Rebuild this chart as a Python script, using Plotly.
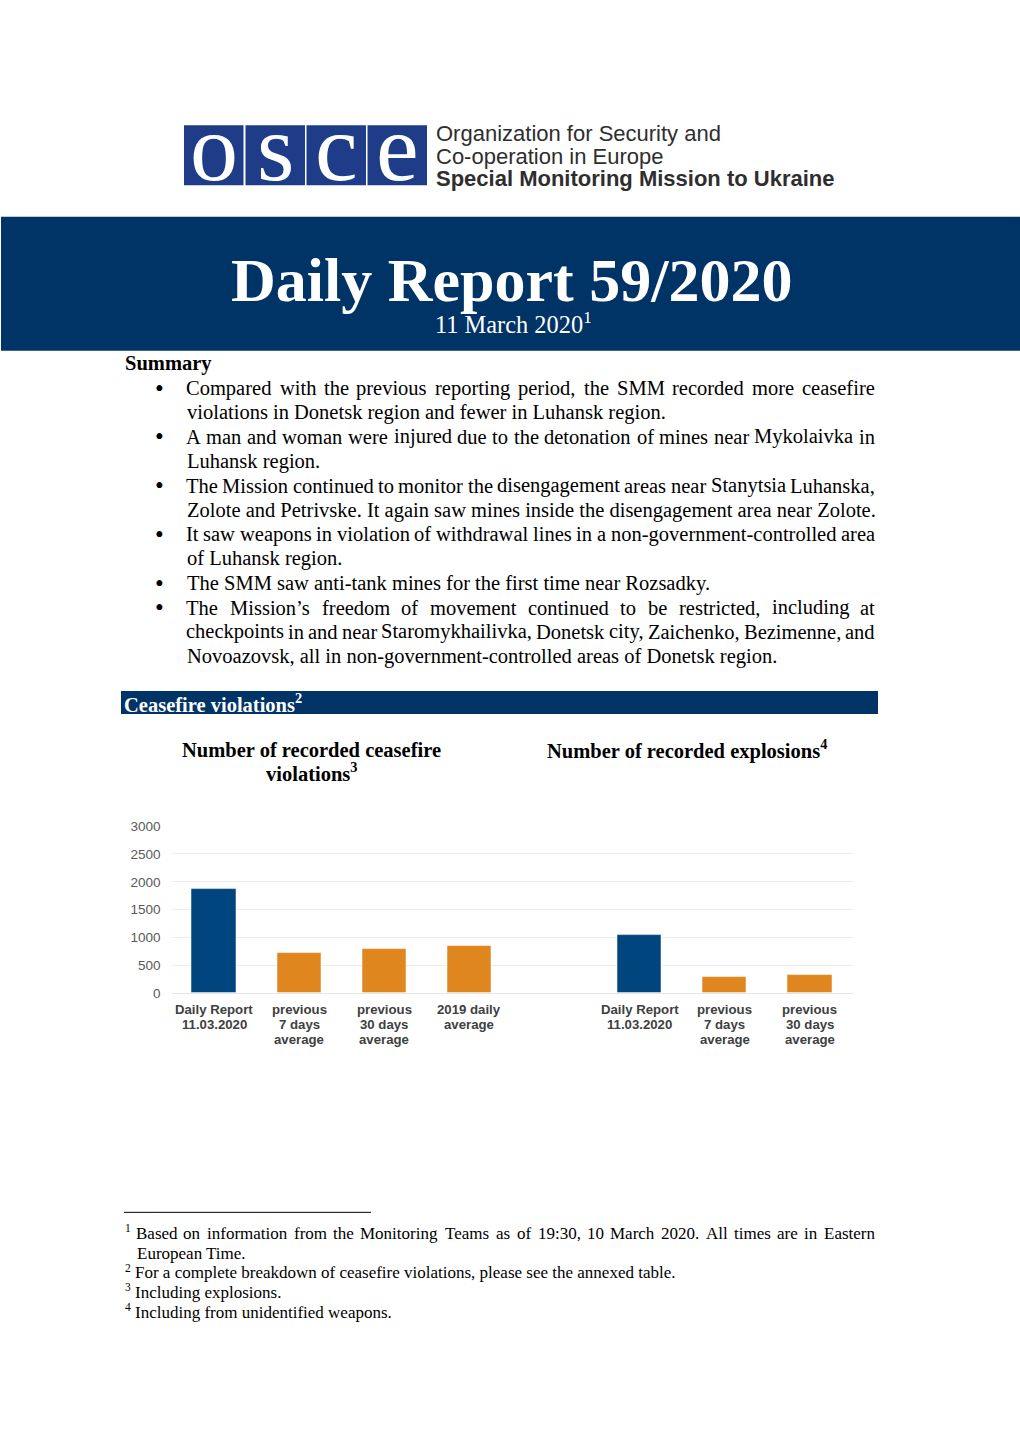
import plotly.graph_objects as go

# ---------------- data ----------------
cf_categories = ["Daily Report<br>11.03.2020", "previous<br>7 days<br>average",
                 "previous<br>30 days<br>average", "2019 daily<br>average"]
cf_values = [1871, 720, 792, 840]

ex_categories = ["Daily Report<br>11.03.2020", "previous<br>7 days<br>average",
                 "previous<br>30 days<br>average"]
ex_values = [1038, 288, 318]

y_ticks = [0, 500, 1000, 1500, 2000, 2500, 3000]

# (bullet, text, justified)
summary_lines = [
    (True, "Compared with the previous reporting period, the SMM recorded more ceasefire", True),
    (False, "violations in Donetsk region and fewer in Luhansk region.", False),
    (True, "A man and woman were injured due to the detonation of mines near Mykolaivka in", True),
    (False, "Luhansk region.", False),
    (True, "The Mission continued to monitor the disengagement areas near Stanytsia Luhanska,", True),
    (False, "Zolote and Petrivske. It again saw mines inside the disengagement area near Zolote.", False),
    (True, "It saw weapons in violation of withdrawal lines in a non-government-controlled area", True),
    (False, "of Luhansk region.", False),
    (True, "The SMM saw anti-tank mines for the first time near Rozsadky.", False),
    (True, "The Mission’s freedom of movement continued to be restricted, including at", True),
    (False, "checkpoints in and near Staromykhailivka, Donetsk city, Zaichenko, Bezimenne, and", True),
    (False, "Novoazovsk, all in non-government-controlled areas of Donetsk region.", False),
]

footnotes = [
    ("1", "Based on information from the Monitoring Teams as of 19:30, 10 March 2020. All times are in Eastern", True),
    ("", "European Time.", False),
    ("2", "For a complete breakdown of ceasefire violations, please see the annexed table.", False),
    ("3", "Including explosions.", False),
    ("4", "Including from unidentified weapons.", False),
]

# ---------------- styling ----------------
W, H = 1020, 1442
NAVY = "#003366"
LOGO_BLUE = "#1f3c88"
BAR_BLUE = "#00457e"
BAR_ORANGE = "#e0861f"
SERIF = "Liberation Serif, Times New Roman, serif"
SANS = "Liberation Sans, Arial, sans-serif"
BODY = 20.5
FOOT = 17.0

# Times-compatible advance widths (per 1000 em) for text justification
_TW = {' ': 250, ',': 250, '.': 250, '-': 333, ':': 278, ';': 278, '/': 278, '’': 333, "'": 180,
       '(': 333, ')': 333}
for _c in "0123456789":
    _TW[_c] = 500
_TW.update(dict(zip("ABCDEFGHIJKLMNOPQRSTUVWXYZ",
                    [722, 667, 667, 722, 611, 556, 722, 722, 333, 389, 722, 611, 889,
                     722, 722, 556, 722, 667, 556, 611, 722, 722, 944, 722, 722, 611])))
_TW.update(dict(zip("abcdefghijklmnopqrstuvwxyz",
                    [444, 500, 444, 500, 444, 333, 500, 500, 278, 278, 500, 278, 778,
                     500, 500, 500, 500, 333, 389, 278, 500, 500, 722, 500, 500, 444])))


def text_width(s, size):
    return sum(_TW.get(c, 500) for c in s) * size / 1000.0


def px(x):
    return x / W


def py(y):
    # compensate for the vertical fit of the page photograph
    return 1 - ((y - 7.4) / 0.989) / H


cf_x = list(range(len(cf_values)))
ex_x = [len(cf_values) + 1 + i for i in range(len(ex_values))]

fig = go.Figure()
fig.add_trace(go.Bar(
    x=cf_x, y=cf_values, width=0.52,
    marker=dict(color=[BAR_BLUE] + [BAR_ORANGE] * (len(cf_values) - 1),
                line=dict(color="rgba(255,255,255,0.5)", width=1)),
    hoverinfo="skip",
))
fig.add_trace(go.Bar(
    x=ex_x, y=ex_values, width=0.52,
    marker=dict(color=[BAR_BLUE] + [BAR_ORANGE] * (len(ex_values) - 1),
                line=dict(color="rgba(255,255,255,0.5)", width=1)),
    hoverinfo="skip",
))

shapes = []
annotations = []


def add_text(x, y, text, size, color="black", family=SERIF, weight="normal", xanchor="left"):
    annotations.append(dict(xref="paper", yref="paper", x=px(x), y=py(y), text=text,
                            showarrow=False, xanchor=xanchor, yanchor="middle",
                            font=dict(family=family, size=size, color=color, weight=weight)))


def add_justified(x0, x1, y, text, size):
    words = text.split(" ")
    widths = [text_width(w, size) for w in words]
    gap = (x1 - x0 - sum(widths)) / (len(words) - 1)
    cur = x0
    for w, wd in zip(words, widths):
        add_text(cur + wd / 2, y, w, size, xanchor="center")
        cur += wd + gap


# category labels under the bars (tight line spacing, as in the reference)
for xv, label in zip(cf_x + ex_x, cf_categories + ex_categories):
    for k, part in enumerate(label.split("<br>")):
        annotations.append(dict(xref="x", yref="paper", x=xv, y=py(1009 + 15 * k), text=part,
                                showarrow=False, xanchor="center", yanchor="middle",
                                font=dict(family=SANS, size=13.2, color="#404040", weight="bold")))

# logo boxes
logo_letters = ["o", "s", "c", "e"]
box_x = [184, 245.5, 306.5, 367.5]
for lx, letter in zip(box_x, logo_letters):
    shapes.append(dict(type="rect", xref="paper", yref="paper",
                       x0=px(lx), x1=px(lx + 59.5), y0=py(185.5), y1=py(125.5),
                       fillcolor=LOGO_BLUE, line=dict(width=0), layer="below"))
    add_text(lx + 30, 148, letter, 96, color="white", xanchor="center")

logo_texts = [("Organization for Security and", 134, "normal"),
              ("Co-operation in Europe", 157, "normal"),
              ("Special Monitoring Mission to Ukraine", 179, "bold")]
for t, yy, wgt in logo_texts:
    add_text(434, yy, t, 22, color="#2e2e2e", family=SANS, weight=wgt)

# banner
shapes.append(dict(type="rect", xref="paper", yref="paper",
                   x0=px(1), x1=px(1020), y0=py(351), y1=py(217),
                   fillcolor=NAVY, line=dict(width=0), layer="below"))
add_text(511, 280, "Daily Report 59/2020", 62, color="white", weight="bold", xanchor="center")
add_text(433, 323, "11 March 2020<sup>1</sup>", 24.4, color="white")

# summary
add_text(123, 364, "Summary", BODY, weight="bold")
for i, (bullet, line, just) in enumerate(summary_lines):
    yy = 388.3 + i * 24.36
    if bullet:
        add_text(159, yy, "•", 25, xanchor="center")
    if just:
        add_justified(186, 875, yy, line, BODY)
    else:
        add_text(185, yy, line, BODY)

# section bar
shapes.append(dict(type="rect", xref="paper", yref="paper",
                   x0=px(121), x1=px(878), y0=py(714), y1=py(691),
                   fillcolor=NAVY, line=dict(width=0), layer="below"))
add_text(122, 703, "Ceasefire violations<sup>2</sup>", BODY, color="white", weight="bold")

# chart titles
add_text(311, 750, "Number of recorded ceasefire", BODY, weight="bold", xanchor="center")
add_text(311, 772, "violations<sup>3</sup>", BODY, weight="bold", xanchor="center")
add_text(687, 749, "Number of recorded explosions<sup>4</sup>", BODY,
         weight="bold", xanchor="center")

# footnote separator
shapes.append(dict(type="line", xref="paper", yref="paper",
                   x0=px(124), x1=px(371), y0=py(1212), y1=py(1212),
                   line=dict(color="black", width=1)))
foot_y = [1233, 1253, 1272.5, 1292, 1312]
for (num, line, just), yy in zip(footnotes, foot_y):
    if num:
        add_text(123, yy - 5, num, 11.5)
    x_start = 136 if (just or not num) else 134
    if just:
        add_justified(x_start, 875, yy, line, FOOT)
    else:
        add_text(x_start - 1, yy, line, FOOT)

fig.update_layout(
    width=W, height=H,
    margin=dict(l=0, r=0, t=0, b=0),
    paper_bgcolor="white", plot_bgcolor="white",
    showlegend=False,
    bargap=0,
    shapes=shapes,
    annotations=annotations,
    xaxis=dict(domain=[px(171.5), px(852.5)], range=[-0.5, len(cf_values) + len(ex_values) + 0.5],
               showticklabels=False,
               showgrid=False, zeroline=False, showline=False, ticks="", fixedrange=True),
    yaxis=dict(domain=[py(993), py(826)], range=[0, 3000],
               tickvals=y_ticks, ticktext=[str(v) for v in y_ticks],
               tickfont=dict(family=SANS, size=13.5, color="#595959"),
               showgrid=True, gridcolor="#ececec", gridwidth=1,
               zeroline=True, zerolinecolor="#e6e6e6", zerolinewidth=1,
               showline=False, ticks="", ticklabelstandoff=10, fixedrange=True),
)

fig.write_html("out.html", config={"displayModeBar": False},
               post_script="document.body.style.margin='0';document.body.style.overflow='hidden';")
